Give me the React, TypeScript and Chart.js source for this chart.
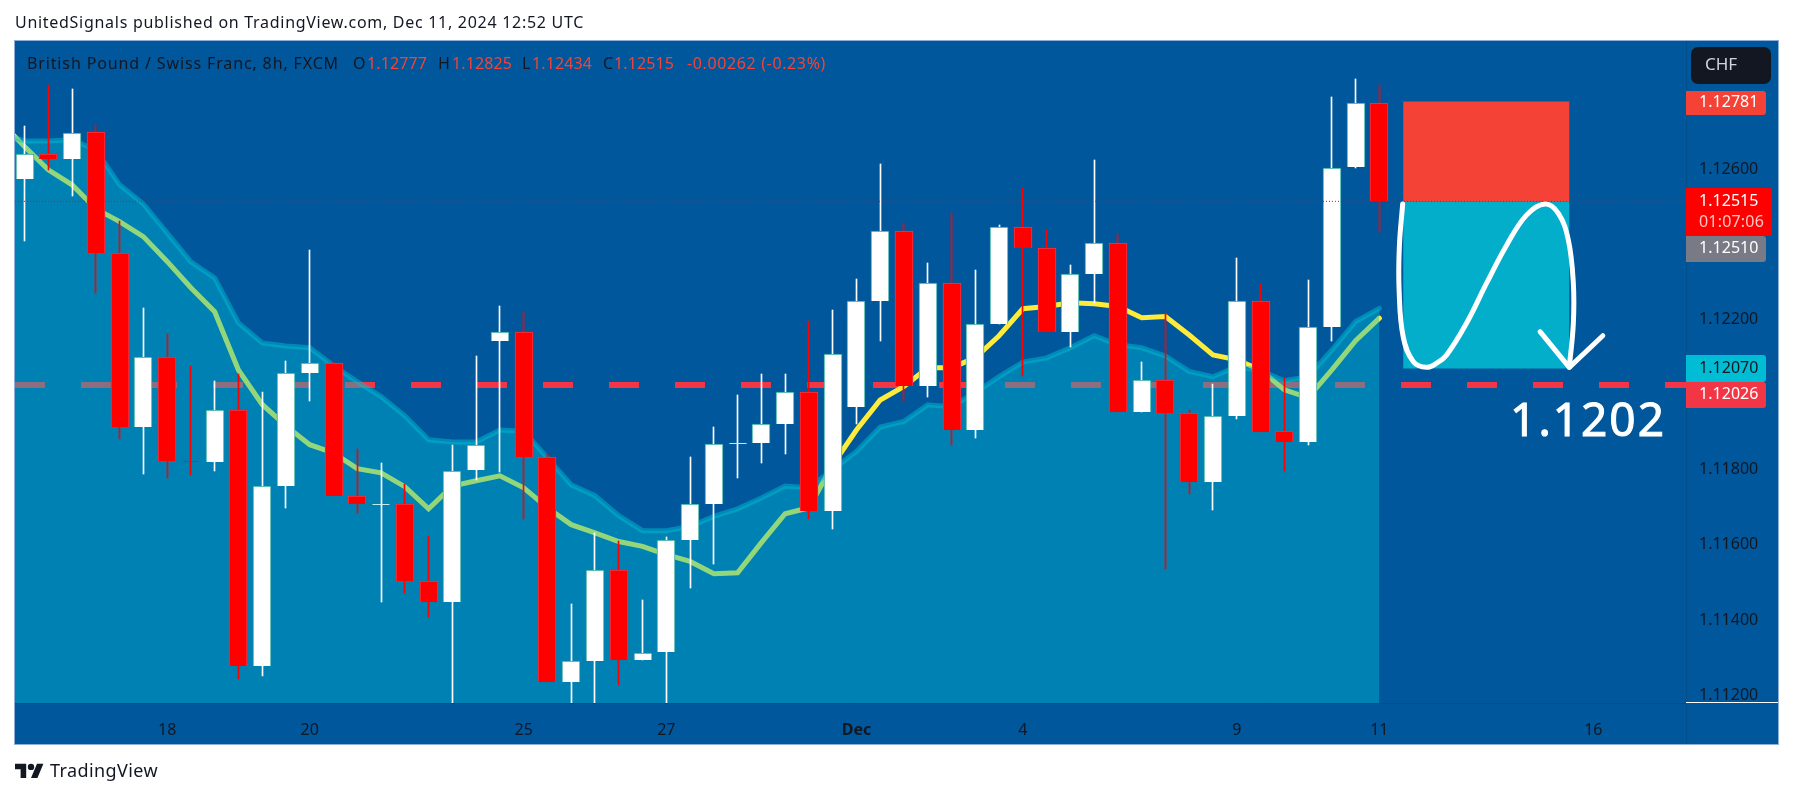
import React, { useEffect, useRef } from "react";
import { Chart, registerables } from "chart.js";

Chart.register(...registerables);

// candles, oldest first
const opens = [1.12574, 1.1264, 1.12627, 1.12699, 1.12377, 1.11914, 1.121, 1.11824, 1.11821, 1.1196, 1.11277, 1.11757, 1.12059, 1.12084, 1.1173, 1.11708, 1.11708, 1.11504, 1.11448, 1.11799, 1.12143, 1.12168, 1.11834, 1.11235, 1.11292, 1.11532, 1.11293, 1.11314, 1.11613, 1.11709, 1.11871, 1.11871, 1.11922, 1.12007, 1.11691, 1.11967, 1.12249, 1.12435, 1.12023, 1.12297, 1.11906, 1.12188, 1.12446, 1.1239, 1.12167, 1.12321, 1.12404, 1.11954, 1.12039, 1.11951, 1.11767, 1.11943, 1.12249, 1.11903, 1.11874, 1.12181, 1.12606, 1.12777];
const highs = [1.12716, 1.12825, 1.12814, 1.12719, 1.12463, 1.1223, 1.12162, 1.12077, 1.12037, 1.12056, 1.12008, 1.1209, 1.12386, 1.12088, 1.11856, 1.11819, 1.11763, 1.11625, 1.11867, 1.12103, 1.12237, 1.1222, 1.11842, 1.11443, 1.11632, 1.11611, 1.11454, 1.11622, 1.11834, 1.11914, 1.12, 1.12055, 1.12055, 1.12195, 1.12226, 1.12308, 1.12615, 1.12457, 1.12351, 1.12483, 1.12332, 1.12452, 1.12551, 1.12439, 1.12346, 1.12625, 1.12428, 1.12087, 1.12217, 1.1196, 1.12029, 1.12364, 1.12295, 1.12044, 1.12306, 1.12793, 1.12841, 1.12825];
const lows = [1.1241, 1.12599, 1.12528, 1.12272, 1.11881, 1.11789, 1.11777, 1.11787, 1.11798, 1.11242, 1.1125, 1.11699, 1.11983, 1.1173, 1.11685, 1.11448, 1.11472, 1.11409, 1.1117, 1.11773, 1.11795, 1.1167, 1.11235, 1.1117, 1.1117, 1.11227, 1.11293, 1.1117, 1.11486, 1.1155, 1.11779, 1.11819, 1.11843, 1.1167, 1.11643, 1.11922, 1.12142, 1.11984, 1.11995, 1.11865, 1.11886, 1.12188, 1.12051, 1.12167, 1.12128, 1.12244, 1.11954, 1.11954, 1.11536, 1.11736, 1.11693, 1.11936, 1.11902, 1.11797, 1.11865, 1.12144, 1.12605, 1.12434];
const closes = [1.1264, 1.12627, 1.12698, 1.12377, 1.11914, 1.121, 1.11823, 1.1182, 1.1196, 1.11277, 1.11757, 1.12059, 1.12084, 1.1173, 1.11708, 1.11708, 1.11504, 1.11448, 1.11798, 1.11865, 1.12168, 1.11834, 1.11235, 1.11292, 1.11532, 1.11293, 1.11313, 1.11613, 1.11708, 1.11868, 1.11871, 1.11922, 1.12007, 1.11691, 1.12108, 1.12249, 1.12435, 1.12023, 1.12297, 1.11906, 1.12188, 1.12446, 1.1239, 1.12167, 1.12321, 1.12404, 1.11954, 1.12039, 1.11951, 1.11767, 1.11942, 1.12249, 1.11902, 1.11874, 1.12181, 1.12605, 1.12776, 1.12515];

// the two averages, first value sits one bar left of the first candle
const blueLine = [1.12697, 1.12676, 1.12676, 1.12679, 1.12652, 1.12559, 1.12508, 1.12431, 1.12354, 1.12311, 1.12191, 1.12138, 1.1213, 1.12125, 1.12077, 1.12035, 1.11995, 1.11944, 1.1188, 1.11874, 1.11874, 1.11906, 1.11903, 1.11832, 1.1176, 1.11731, 1.11678, 1.11638, 1.11638, 1.11649, 1.11676, 1.11696, 1.11725, 1.11757, 1.11752, 1.118, 1.11849, 1.11914, 1.11929, 1.11973, 1.11968, 1.12005, 1.12048, 1.12087, 1.12098, 1.12125, 1.12157, 1.12133, 1.12125, 1.12103, 1.12062, 1.12048, 1.12075, 1.12064, 1.12037, 1.12048, 1.12119, 1.12195, 1.1223];
const yellowLine = [1.12726, 1.12661, 1.12599, 1.12559, 1.12495, 1.12461, 1.12421, 1.12355, 1.12285, 1.12221, 1.12066, 1.11974, 1.11917, 1.11867, 1.11845, 1.11803, 1.11792, 1.11755, 1.11696, 1.11757, 1.11771, 1.11784, 1.11752, 1.11699, 1.11654, 1.11632, 1.11609, 1.11596, 1.11574, 1.11556, 1.11523, 1.11526, 1.11606, 1.11683, 1.11699, 1.11813, 1.11906, 1.11986, 1.12022, 1.12072, 1.12072, 1.12098, 1.12157, 1.12229, 1.12235, 1.12245, 1.12242, 1.12235, 1.12205, 1.12208, 1.12159, 1.12106, 1.12093, 1.12066, 1.12013, 1.11992, 1.12066, 1.12144, 1.12204];

// hand drawn arrow, in bars and price
const arrowBars = [57.98, 57.84, 57.83, 58.0, 58.43, 58.99, 59.41, 59.83, 60.67, 61.51, 62.36, 63.2, 63.97, 64.53, 64.95, 65.16, 65.16, 64.99];
const arrowPrices = [1.12508, 1.12394, 1.12279, 1.12155, 1.12088, 1.12073, 1.12084, 1.12106, 1.12191, 1.12297, 1.12399, 1.12479, 1.12508, 1.12483, 1.12412, 1.12297, 1.1219, 1.12073];
const headBars = [63.76, 64.99, 66.4];
const headPrices = [1.12168, 1.12073, 1.12157];

const boxBars = [58, 65];
const stopPrice = 1.12781;
const entryPrice = 1.12515;
const targetPrice = 1.1207;
const dashedPrice = 1.12026;

const priceTicks = [1.112, 1.114, 1.116, 1.118, 1.122, 1.126];
const timeTicks = [6, 12, 21, 27, 35, 42, 51, 57, 66];
const timeLabels = ["18", "20", "25", "27", "Dec", "4", "9", "11", "16"];

const tags = [
  { text: "1.12781", top: 91, bottom: 115, mid: 102, bg: "#f44336", fg: "#ffffff", wide: 80 },
  { text: "1.12515", top: 188, bottom: 236, mid: 201, bg: "#ff0000", fg: "#ffffff", wide: 86 },
  { text: "1.12510", top: 236, bottom: 262, mid: 248, bg: "#787b86", fg: "#ffffff", wide: 80 },
  { text: "1.12070", top: 355, bottom: 382, mid: 368, bg: "#00bcd4", fg: "#131722", wide: 80 },
  { text: "1.12026", top: 382, bottom: 408, mid: 394, bg: "#f23645", fg: "#ffffff", wide: 80 },
];

const BG = "#01579b";
const INK = "#131722";
const FONT = '"Noto Sans", sans-serif';
const xMin = -0.4;
const xMax = 69.9;
const yMin = 1.11179;
const yMax = 1.12942;

// text fitted to the width it has in the picture
function put(ctx: CanvasRenderingContext2D, text: string, x: number, y: number, size: number, color: string, fit?: number) {
  ctx.font = size + "px " + FONT;
  ctx.fillStyle = color;
  ctx.textBaseline = "middle";
  ctx.textAlign = "left";
  const spacing = fit ? (fit - ctx.measureText(text).width) / text.length : 0;
  (ctx as any).letterSpacing = spacing + "px";
  ctx.fillText(text, x, y);
  (ctx as any).letterSpacing = "0px";
}

// snaps bars to whole pixels so wicks stay one pixel wide
const snapBars = {
  id: "snapBars",
  afterDatasetsUpdate(chart: any) {
    chart.data.datasets.forEach((ds: any, i: number) => {
      if (ds.type !== "bar") return;
      chart.getDatasetMeta(i).data.forEach((el: any) => {
        el.x = ds.barThickness === 1 ? Math.floor(el.x) + 0.5 : Math.round(el.x);
        el.y = Math.round(el.y);
        el.base = Math.round(el.base);
        if (el.base === el.y) el.base = el.y + 1;
      });
    });
  },
};

const frame = {
  id: "frame",
  beforeDraw(chart: any) {
    const { ctx, width, height, chartArea: a } = chart;
    ctx.save();
    ctx.fillStyle = "#ffffff";
    ctx.fillRect(0, 0, width, height);
    ctx.fillStyle = BG;
    ctx.fillRect(a.left, a.top, 1778 - a.left, 744 - a.top);
    ctx.strokeStyle = "#8fb0d6";
    ctx.lineWidth = 1;
    ctx.strokeRect(a.left - 0.5, a.top - 0.5, 1778 - a.left + 1, 744 - a.top + 1);
    ctx.strokeStyle = "rgba(19,23,34,0.12)";
    ctx.beginPath();
    ctx.moveTo(a.right + 0.5, a.top);
    ctx.lineTo(a.right + 0.5, 744);
    ctx.moveTo(a.left, a.bottom + 0.5);
    ctx.lineTo(a.right, a.bottom + 0.5);
    ctx.stroke();
    ctx.restore();
  },
  afterDraw(chart: any) {
    const { ctx, chartArea: a, scales } = chart;
    const y = scales.y;
    ctx.save();

    put(ctx, "UnitedSignals published on TradingView.com, Dec 11, 2024 12:52 UTC", 15, 23, 16, INK, 569);

    put(ctx, "British Pound / Swiss Franc, 8h, FXCM", 27, 64, 16, INK, 312);
    put(ctx, "O", 353, 64, 16, INK);
    put(ctx, "1.12777", 367, 64, 16, "#f44336", 60);
    put(ctx, "H", 438, 64, 16, INK);
    put(ctx, "1.12825", 452, 64, 16, "#f44336", 60);
    put(ctx, "L", 522, 64, 16, INK);
    put(ctx, "1.12434", 532, 64, 16, "#f44336", 60);
    put(ctx, "C", 603, 64, 16, INK);
    put(ctx, "1.12515", 614, 64, 16, "#f44336", 60);
    put(ctx, "-0.00262 (-0.23%)", 687, 64, 16, "#f44336", 139);

    // price scale tags
    tags.forEach((t) => {
      ctx.fillStyle = t.bg;
      ctx.beginPath();
      ctx.roundRect(a.right, t.top, t.wide, t.bottom - t.top, [0, 3, 3, 0]);
      ctx.fill();
      put(ctx, t.text, a.right + 13, t.mid, 16, t.fg, 59.5);
    });
    put(ctx, "01:07:06", a.right + 13, 222.5, 16, "#ffc4c4", 65);

    ctx.strokeStyle = "#ffffff";
    ctx.lineWidth = 1;
    ctx.beginPath();
    ctx.moveTo(a.right, a.bottom - 0.5);
    ctx.lineTo(1778, a.bottom - 0.5);
    ctx.stroke();

    // currency button
    ctx.fillStyle = INK;
    ctx.beginPath();
    ctx.roundRect(1691, 47, 80, 37, 7);
    ctx.fill();
    put(ctx, "CHF", 1705, 65.5, 17, "#d1d4dc", 32);

    // note on the chart
    ctx.font = "46px " + FONT;
    ctx.fillStyle = "#ffffff";
    ctx.strokeStyle = "#ffffff";
    ctx.lineWidth = 1;
    ctx.textBaseline = "alphabetic";
    ctx.textAlign = "left";
    (ctx as any).letterSpacing = "2px";
    const noteX = scales.x.getPixelForValue(62.5);
    const noteY = y.getPixelForValue(1.1189);
    ctx.fillText("1.1202", noteX, noteY);
    ctx.strokeText("1.1202", noteX, noteY);
    (ctx as any).letterSpacing = "0px";

    // logo
    ctx.save();
    ctx.translate(15, 760.5);
    ctx.scale(0.8, 0.8);
    ctx.fillStyle = INK;
    ctx.fill(new Path2D("M14 22H7V11H0V4h14v18zM28 22h-8l7.5-18h8L28 22z"));
    ctx.beginPath();
    ctx.arc(20, 8, 4, 0, Math.PI * 2);
    ctx.fill();
    ctx.restore();
    put(ctx, "TradingView", 50, 772, 18, INK, 108);
    ctx.restore();
  },
};

export default function App() {
  const canvasRef = useRef<HTMLCanvasElement>(null);

  useEffect(() => {
    document.body.style.margin = "0";
    if (!canvasRef.current) return;

    const bars = opens.map((_, i) => i);
    const isUp = (i: number) => closes[i] >= opens[i];
    const flat = (price: number) => [
      { x: xMin, y: price },
      { x: xMax, y: price },
    ];
    const thin = { pointRadius: 0, tension: 0 };

    const chart = new Chart(canvasRef.current, {
      type: "line",
      data: {
        datasets: [
          { type: "line", data: flat(dashedPrice), borderColor: "#f23645", borderWidth: 6, borderDash: [30, 36], order: 60, ...thin },
          {
            type: "line",
            data: yellowLine.map((y, i) => ({ x: i - 1, y })),
            borderColor: "#ffeb3b",
            borderWidth: 5,
            borderCapStyle: "round",
            order: 50,
            ...thin,
          },
          {
            type: "line",
            data: blueLine.map((y, i) => ({ x: i - 1, y })),
            borderColor: "rgba(0,188,212,0.5)",
            backgroundColor: "rgba(0,188,212,0.42)",
            borderWidth: 5,
            borderCapStyle: "round",
            fill: "start",
            order: 40,
            ...thin,
          },
          {
            type: "bar",
            data: bars.map((i) => ({ x: i, y: [lows[i], highs[i]] })),
            backgroundColor: bars.map((i) => (isUp(i) ? "#ffffff" : "#ff0000")),
            barThickness: 1,
            grouped: false,
            order: 30,
          },
          {
            type: "bar",
            data: bars.map((i) => ({ x: i, y: [opens[i], closes[i]] })),
            backgroundColor: bars.map((i) => (isUp(i) ? "#ffffff" : "#ff0000")),
            borderColor: bars.map((i) => (isUp(i) ? "#26a69a" : "#f23645")),
            borderWidth: 1,
            barThickness: 18,
            grouped: false,
            order: 20,
          },
          {
            type: "line",
            data: boxBars.map((x) => ({ x, y: stopPrice })),
            borderWidth: 0,
            backgroundColor: "#f44336",
            fill: { value: entryPrice },
            order: 15,
            ...thin,
          },
          {
            type: "line",
            data: boxBars.map((x) => ({ x, y: entryPrice })),
            borderWidth: 0,
            backgroundColor: "#03aecb",
            fill: { value: targetPrice },
            order: 14,
            ...thin,
          },
          { type: "line", data: flat(entryPrice), borderColor: "#ff0000", borderWidth: 1, borderDash: [1, 2], order: 10, ...thin },
          {
            type: "line",
            data: arrowBars.map((x, i) => ({ x, y: arrowPrices[i] })),
            borderColor: "#ffffff",
            borderWidth: 5,
            borderCapStyle: "round",
            pointRadius: 0,
            tension: 0.4,
            order: 2,
          },
          {
            type: "line",
            data: headBars.map((x, i) => ({ x, y: headPrices[i] })),
            borderColor: "#ffffff",
            borderWidth: 5,
            borderCapStyle: "round",
            borderJoinStyle: "round",
            order: 1,
            ...thin,
          },
        ] as any,
      },
      options: {
        responsive: false,
        devicePixelRatio: 1,
        animation: false,
        layout: { autoPadding: false, padding: { left: 15, top: 41, right: 15, bottom: 54 } },
        plugins: { legend: { display: false }, tooltip: { enabled: false } },
        scales: {
          x: {
            type: "linear",
            offset: false,
            min: xMin,
            max: xMax,
            grid: { display: false },
            border: { display: false },
            afterBuildTicks: (axis: any) => {
              axis.ticks = timeTicks.map((value) => ({ value }));
            },
            afterFit: (axis: any) => {
              axis.height = 41;
            },
            ticks: {
              autoSkip: false,
              maxRotation: 0,
              padding: 10,
              color: INK,
              font: (ctx: any) => ({
                family: FONT,
                size: 16,
                weight: timeLabels[ctx.index] === "Dec" ? "bold" : "normal",
              }),
              callback: (value: any) => timeLabels[timeTicks.indexOf(value)],
            },
          },
          y: {
            type: "linear",
            position: "right",
            min: yMin,
            max: yMax,
            grid: { display: false, drawTicks: false },
            border: { display: false },
            afterBuildTicks: (axis: any) => {
              axis.ticks = priceTicks.map((value) => ({ value }));
            },
            afterFit: (axis: any) => {
              axis.width = 92;
            },
            ticks: {
              autoSkip: false,
              padding: 13,
              color: INK,
              font: { family: FONT, size: 16 },
              callback: (value: any) => Number(value).toFixed(5),
            },
          },
        },
      } as any,
      plugins: [snapBars, frame],
    });

    return () => chart.destroy();
  }, []);

  return <canvas ref={canvasRef} width={1793} height={798} style={{ display: "block", position: "fixed", left: 0, top: 0 }} />;
}
